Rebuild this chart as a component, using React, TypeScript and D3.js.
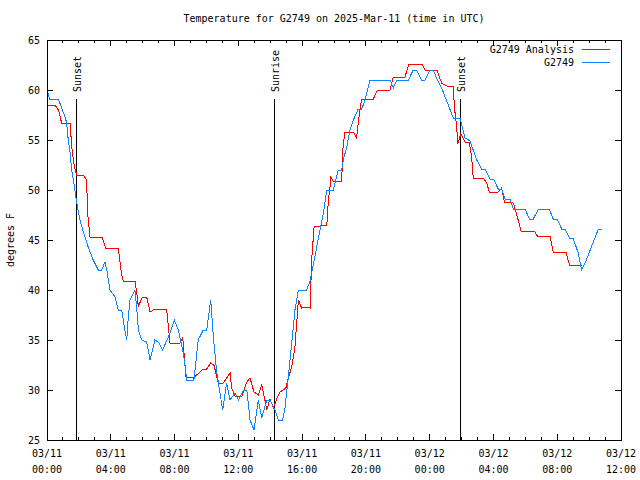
import React from "react";
import * as d3 from "d3";

const TITLE = "Temperature for G2749 on 2025-Mar-11 (time in UTC)";
const Y_LABEL = "degrees F";
const SERIES_NAMES = ["G2749 Analysis", "G2749"];
const SERIES_COLORS = ["#ff0000", "#0a84ff"];

// minutes since 2025-03-11 00:00 UTC
const analysisMinutes = [0, 30, 43, 55, 87, 93, 103, 112, 137, 149, 153, 162, 207, 221, 268, 281, 287, 331, 338, 344, 356, 375, 388, 406, 450, 463, 501, 511, 523, 551, 588, 601, 616, 628, 645, 663, 676, 689, 695, 707, 734, 752, 764, 779, 795, 808, 820, 827, 839, 852, 864, 877, 899, 908, 921, 933, 946, 958, 977, 990, 996, 1005, 1053, 1059, 1065, 1068, 1077, 1109, 1113, 1121, 1153, 1165, 1171, 1184, 1228, 1243, 1291, 1303, 1347, 1362, 1410, 1423, 1467, 1485, 1504, 1529, 1533, 1542, 1546, 1557, 1573, 1589, 1598, 1604, 1642, 1655, 1664, 1698, 1711, 1721, 1755, 1768, 1784, 1834, 1845, 1893, 1905, 1953, 1966, 2012];
const analysisValues = [58.5, 58.5, 58.0, 56.7, 56.7, 54.3, 52.3, 51.5, 51.5, 51.0, 47.7, 45.3, 45.3, 44.2, 44.2, 41.5, 40.9, 40.9, 39.7, 38.3, 39.2, 39.3, 37.8, 38.1, 38.1, 34.7, 34.7, 35.2, 31.3, 31.2, 32.1, 32.1, 32.7, 32.5, 30.7, 30.7, 31.2, 31.7, 30.2, 29.4, 29.4, 30.8, 31.2, 29.8, 29.5, 30.5, 29.0, 28.0, 29.1, 28.2, 29.1, 29.8, 30.2, 31.2, 32.3, 34.3, 39.0, 38.2, 38.3, 38.2, 43.0, 46.3, 46.5, 49.0, 50.3, 51.3, 50.9, 50.9, 54.0, 55.8, 55.8, 55.2, 56.7, 59.1, 59.1, 60.0, 60.0, 61.3, 61.3, 62.6, 62.6, 62.0, 62.0, 60.7, 60.4, 60.4, 58.3, 56.2, 54.6, 55.6, 54.8, 54.8, 53.3, 51.2, 51.2, 50.7, 49.8, 49.8, 50.2, 48.8, 48.7, 47.5, 45.9, 45.9, 45.4, 45.4, 43.8, 43.8, 42.5, 42.5];

const obsMinutes = [0, 10, 43, 55, 68, 74, 80, 87, 93, 105, 112, 124, 137, 155, 174, 193, 206, 218, 225, 237, 256, 268, 281, 293, 300, 306, 312, 331, 338, 344, 356, 375, 388, 406, 419, 435, 463, 479, 494, 513, 526, 553, 569, 588, 601, 616, 626, 639, 651, 661, 676, 689, 707, 720, 739, 752, 764, 779, 795, 808, 827, 839, 858, 870, 887, 896, 908, 921, 933, 946, 977, 990, 1002, 1015, 1027, 1040, 1053, 1077, 1096, 1109, 1115, 1128, 1140, 1153, 1171, 1184, 1197, 1209, 1216, 1291, 1303, 1316, 1360, 1378, 1391, 1410, 1423, 1441, 1454, 1467, 1485, 1529, 1554, 1573, 1592, 1617, 1636, 1648, 1667, 1680, 1698, 1711, 1724, 1742, 1755, 1799, 1815, 1830, 1849, 1890, 1905, 1920, 1937, 1949, 1966, 1981, 1999, 2012, 2025, 2075, 2087];
const obsValues = [60.0, 59.1, 59.1, 58.2, 57.3, 56.7, 55.0, 53.7, 52.0, 50.0, 48.7, 47.0, 45.8, 44.3, 43.0, 42.0, 42.0, 42.8, 42.0, 40.0, 39.3, 38.0, 38.0, 36.0, 35.0, 37.3, 39.0, 40.0, 38.0, 36.0, 35.0, 34.8, 33.0, 35.0, 34.8, 34.0, 35.7, 37.0, 36.0, 33.7, 31.0, 31.0, 35.0, 36.0, 36.0, 39.0, 35.3, 31.7, 29.7, 28.0, 30.7, 29.0, 29.7, 29.0, 30.0, 30.0, 27.0, 26.0, 29.0, 27.2, 29.0, 29.0, 28.0, 27.0, 27.0, 28.3, 31.3, 34.7, 38.0, 40.0, 40.0, 40.9, 42.5, 44.3, 46.0, 47.7, 50.0, 50.0, 52.0, 52.0, 53.0, 54.3, 56.0, 57.0, 58.1, 58.1, 59.0, 60.3, 61.0, 61.0, 60.2, 61.0, 61.0, 62.0, 62.0, 61.0, 61.0, 62.0, 62.0, 61.1, 60.2, 57.2, 57.2, 55.2, 54.9, 53.0, 52.1, 52.1, 51.1, 51.1, 50.1, 50.1, 49.1, 49.1, 48.1, 48.1, 47.1, 47.1, 48.1, 48.1, 47.1, 47.1, 46.1, 46.1, 45.2, 45.1, 43.7, 42.0, 42.7, 46.1, 46.1];

const eventLabels = ["Sunset", "Sunrise", "Sunset"];
const eventMinutes = [109, 854, 1554];

const yTicks = [25, 30, 35, 40, 45, 50, 55, 60, 65];
const xTickHours = [0, 4, 8, 12, 16, 20, 24, 28, 32, 36];

const START = Date.UTC(2025, 2, 11, 0, 0);
const toDate = (m: number) => new Date(START + m * 60000);

const W = 640, H = 480;
const L = 47, R = 621, T = 40, B = 440;
const FONT = "'DejaVu Sans Mono', 'Liberation Mono', monospace";

export default function App() {
  const x = d3.scaleUtc().domain([toDate(0), toDate(36 * 60)]).range([L, R]);
  const y = d3.scaleLinear().domain([25, 65]).range([B, T]);
  const fmtDate = d3.utcFormat("%m/%d");
  const fmtTime = d3.utcFormat("%H:%M");

  const line = d3
    .line<[number, number]>()
    .x((d) => x(toDate(d[0])))
    .y((d) => y(d[1]));

  const analysis = analysisMinutes.map((m, i) => [m, analysisValues[i]] as [number, number]);
  const obs = obsMinutes.map((m, i) => [m, obsValues[i]] as [number, number]);

  const minorHours = d3.range(0, 37);

  return (
    <svg width={W} height={H} style={{ display: "block", position: "absolute", left: 0, top: 0, background: "#fff" }} fontFamily={FONT} fontSize={10}>
      <rect x={0} y={0} width={W} height={H} fill="#fff" />
      <text x={(L + R) / 2} y={22} textAnchor="middle" fill="#000">{TITLE}</text>
      <text transform={`translate(14,${(T + B) / 2}) rotate(-90)`} textAnchor="middle" fill="#000">{Y_LABEL}</text>

      {/* y ticks */}
      {yTicks.map((v) => (
        <g key={"y" + v} shapeRendering="crispEdges">
          <line x1={L} x2={L + 6} y1={y(v)} y2={y(v)} stroke="#000" />
          <line x1={R - 6} x2={R} y1={y(v)} y2={y(v)} stroke="#000" />
          <text x={40} y={y(v)} dy="0.35em" textAnchor="end" fill="#000">{v}</text>
        </g>
      ))}

      {/* x ticks */}
      {minorHours.map((h) => {
        const major = h % 4 === 0;
        const len = major ? 6 : 3;
        const px = x(toDate(h * 60));
        return (
          <g key={"xm" + h} shapeRendering="crispEdges">
            <line x1={px} x2={px} y1={B} y2={B - len} stroke="#000" />
            <line x1={px} x2={px} y1={T} y2={T + len} stroke="#000" />
          </g>
        );
      })}
      {xTickHours.map((h) => {
        const d = toDate(h * 60);
        const px = x(d);
        return (
          <g key={"xl" + h}>
            <text x={px} y={457} textAnchor="middle" fill="#000">{fmtDate(d)}</text>
            <text x={px} y={473} textAnchor="middle" fill="#000">{fmtTime(d)}</text>
          </g>
        );
      })}

      {/* event lines */}
      {eventMinutes.map((m, i) => {
        const px = Math.round(x(toDate(m))) + 0.5;
        return (
          <g key={"ev" + i}>
            <line x1={px} x2={px} y1={99} y2={B} stroke="#000" shapeRendering="crispEdges" />
            <text transform={`translate(${px + 4.5},92) rotate(-90)`} textAnchor="start" fill="#000">{eventLabels[i]}</text>
          </g>
        );
      })}

      {/* data */}
      <path d={line(analysis) || ""} fill="none" stroke={SERIES_COLORS[0]} strokeWidth={1} shapeRendering="crispEdges" />
      <path d={line(obs) || ""} fill="none" stroke={SERIES_COLORS[1]} strokeWidth={1} shapeRendering="crispEdges" />

      {/* frame */}
      <rect x={L} y={T} width={R - L} height={B - T} fill="none" stroke="#000" shapeRendering="crispEdges" />

      {/* legend */}
      {SERIES_NAMES.map((name, i) => {
        const ly = 49.5 + i * 13;
        return (
          <g key={"lg" + i}>
            <text x={574} y={ly} dy="0.35em" textAnchor="end" fill="#000">{name}</text>
            <line x1={582} x2={610} y1={ly} y2={ly} stroke={SERIES_COLORS[i]} shapeRendering="crispEdges" />
          </g>
        );
      })}
    </svg>
  );
}
